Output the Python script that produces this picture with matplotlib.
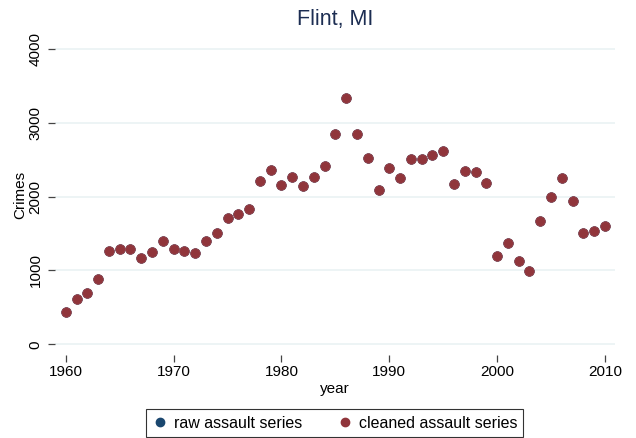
import matplotlib
matplotlib.use("Agg")
import matplotlib.pyplot as plt
from matplotlib.lines import Line2D

years = list(range(1960, 2011))
cleaned = [434, 614, 691, 889, 1268, 1295, 1287, 1169, 1251, 1404,
           1287, 1260, 1233, 1404, 1512, 1707, 1766, 1833, 2213, 2362,
           2154, 2271, 2141, 2271, 2416, 2854, 3333, 2854, 2529, 2087,
           2394, 2249, 2511, 2511, 2569, 2615, 2168, 2348, 2339, 2182,
           1192, 1369, 1133, 997, 1671, 1992, 2253, 1938, 1508, 1531,
           1599]
raw = list(cleaned)
xticks = [1960, 1970, 1980, 1990, 2000, 2010]
yticks = [0, 1000, 2000, 3000, 4000]

plt.rcParams['font.family'] = ['Liberation Sans', 'DejaVu Sans']
W, H = 636, 438
fig = plt.figure(figsize=(W / 100, H / 100), dpi=100)
ax = fig.add_axes([55 / W, 1 - 355 / H, 560 / W, 320 / H])

blue = '#1a476f'
red = '#90353b'
ax.scatter(years, raw, s=48, color=blue, zorder=3, linewidths=0.5, edgecolors=blue)
ax.scatter(years, cleaned, s=48, color=red, zorder=4, linewidths=0.5, edgecolors='#a04a50')

ax.set_xlim(1959.0, 2010.93)
ax.set_ylim(-145, 4191)
ax.set_xticks(xticks)
ax.set_yticks(yticks)
ax.set_yticklabels([str(v) for v in yticks], rotation=90, va='center')
for s in ax.spines.values():
    s.set_visible(False)
ax.grid(axis='y', color='#eaf2f3', linewidth=1.2, zorder=0)
ax.tick_params(axis='both', direction='out', length=5, width=0.9, color='#444444',
               labelsize=11, labelcolor='black')
ax.tick_params(axis='x', pad=2)
ax.tick_params(axis='y', pad=4)
ax.set_xlabel('year', fontsize=11, labelpad=2)
ax.set_ylabel('Crimes', fontsize=11, labelpad=1)
fig.text(335 / W, 1 - 20 / H, 'Flint, MI', ha='center', va='center',
         fontsize=15.5, color='#1c2d52')

handles = [Line2D([], [], marker='o', linestyle='none', color=blue, markersize=6),
           Line2D([], [], marker='o', linestyle='none', color=red, markersize=6)]
leg = fig.legend(handles, ['raw assault series', 'cleaned assault series'],
                 loc='lower center', bbox_to_anchor=(334.5 / W, 0.0), ncol=2,
                 fontsize=11.5, frameon=True, fancybox=False, edgecolor='black',
                 handletextpad=0.35, columnspacing=2.2, handlelength=1.0,
                 borderpad=0.4, borderaxespad=0.05)
leg.get_frame().set_linewidth(0.8)

fig.savefig('out.png', dpi=100, facecolor='white')
